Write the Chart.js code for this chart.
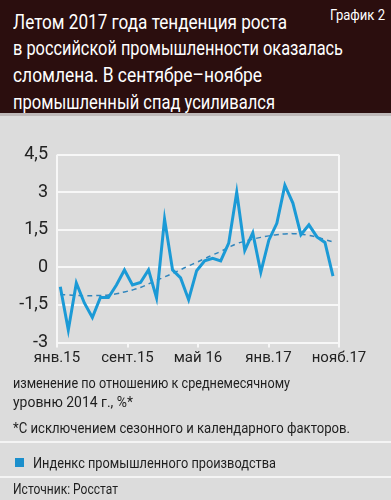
<!DOCTYPE html>
<html>
<head>
<meta charset="utf-8">
<script src="https://cdn.jsdelivr.net/npm/chart.js@4"></script>
<style>
  html,body{margin:0;padding:0;}
  body{width:391px;height:500px;background:#dcdcdc;position:relative;overflow:hidden;
       font-family:Roboto,"DejaVu Sans",sans-serif;color:#1e1e1e;}
  #head{position:absolute;left:0;top:0;width:391px;height:113px;background:#2b0e0e;border-bottom:3px solid #bdb8b8;}
  .w{position:absolute;white-space:nowrap;transform-origin:0 50%;}
  .ti{color:#fff;font-size:20px;left:13px;line-height:24px;}
  #cv{position:absolute;left:0;top:135px;}
  .t{left:13px;font-size:15.5px;line-height:18px;}
  .sep{position:absolute;left:0;width:391px;height:2px;background:#f4f4f4;}
  #sq{position:absolute;left:15px;top:458px;width:9px;height:9px;background:#1b8fcc;}
</style>
</head>
<body>
<div id="head"></div>
<div class="w ti" style="top:9.7px;" data-w="274">Летом 2017 года тенденция роста</div>
<div class="w ti" style="top:36.3px;" data-w="330">в российской промышленности оказалась</div>
<div class="w ti" style="top:63px;" data-w="249">сломлена. В сентябре–ноябре</div>
<div class="w ti" style="top:89.7px;" data-w="262">промышленный спад усиливался</div>
<div class="w" style="top:6px;left:330px;color:#fff;font-size:15.5px;line-height:18px;" data-w="55">График 2</div>
<canvas id="cv" width="391" height="240"></canvas>
<div class="w t" style="top:374px;" data-w="277">изменение по отношению к среднемесячному</div>
<div class="w t" style="top:393px;" data-w="120">уровню 2014 г., %*</div>
<div class="w t" style="top:419px;" data-w="337">*С исключением сезонного и календарного факторов.</div>
<div class="sep" style="top:441px;"></div>
<div id="sq"></div>
<div class="w t" style="top:454px;left:33px;" data-w="243">Инденкс промышленного производства</div>
<div class="sep" style="top:476px;"></div>
<div class="w t" style="top:480px;" data-w="105">Источник: Росстат</div>
<script>
// Months Jan 2015 .. Nov 2017
const months = ["01.15","02.15","03.15","04.15","05.15","06.15","07.15","08.15","09.15","10.15","11.15","12.15",
  "01.16","02.16","03.16","04.16","05.16","06.16","07.16","08.16","09.16","10.16","11.16","12.16",
  "01.17","02.17","03.17","04.17","05.17","06.17","07.17","08.17","09.17","10.17","11.17"];
const indexValues = [-0.77,-2.5,-0.62,-1.42,-2.0,-1.2,-1.2,-0.7,-0.1,-0.7,-0.6,-0.1,
  -1.22,1.93,-0.1,-0.42,-1.29,-0.13,0.26,0.36,0.26,0.97,3.0,0.68,
  1.38,-0.19,1.09,1.76,3.28,2.57,1.31,1.7,1.22,1.0,-0.35];
const trendValues = [-1.08,-1.1,-1.12,-1.13,-1.13,-1.12,-1.1,-1.05,-0.98,-0.9,-0.8,-0.66,
  -0.52,-0.38,-0.24,-0.09,0.06,0.2,0.35,0.5,0.64,0.8,0.95,1.05,
  1.13,1.2,1.26,1.31,1.34,1.35,1.33,1.28,1.21,1.11,1.02];
const xTickLabels = ["янв.15","сент.15","май 16","янв.17","нояб.17"];
const yTicks = [-3,-1.5,0,1.5,3,4.5];

// fit condensed-looking text to the widths in the reference
document.querySelectorAll('[data-w]').forEach(el=>{
  const w = el.getBoundingClientRect().width;
  el.style.transform = 'scaleX(' + (parseFloat(el.dataset.w)/w) + ')';
});

const FONT = 'Roboto,"DejaVu Sans",sans-serif';
const xMin = -0.41, xMax = 34.75;

new Chart(document.getElementById('cv'), {
  type: 'line',
  data: {
    datasets: [
      {data: indexValues.map((v,i)=>({x:i,y:v})), borderColor:'#1b9ad6', borderWidth:3,
       pointRadius:0, tension:0, borderJoinStyle:'miter', order:1},
      {data: trendValues.map((v,i)=>({x:i,y:v})), borderColor:'#3286bd', borderWidth:1.5,
       borderDash:[5,4], pointRadius:0, tension:0.4, order:2}
    ]
  },
  options: {
    responsive:false, animation:false, devicePixelRatio:1,
    layout:{padding:{left:0,right:52,top:13.5,bottom:0}},
    plugins:{legend:{display:false}, tooltip:{enabled:false}},
    scales:{
      x:{type:'linear', min:xMin, max:xMax,
        afterBuildTicks:(s)=>{ s.ticks = xTickLabels.map((l,i)=>({value: xMin + i*(xMax-xMin)/(xTickLabels.length-1)})); },
        afterFit:(s)=>{ s.height = 32.5; },
        ticks:{callback:(v,i)=>xTickLabels[i], color:'#222', font:{family:FONT,size:15}, padding:2, maxRotation:0, autoSkip:false},
        grid:{color:(c)=> (c.index===0||c.index===xTickLabels.length-1)?'#f7f7f7':'rgba(0,0,0,0)',
              tickColor:'#f7f7f7', lineWidth:2, tickLength:5},
        border:{display:true, color:'#f7f7f7', width:2}
      },
      y:{min:-3, max:4.5,
        afterBuildTicks:(s)=>{ s.ticks = yTicks.map(v=>({value:v})); },
        afterFit:(s)=>{ s.width = 57; },
        ticks:{callback:(v)=>String(v).replace('.',','), color:'#222', font:{family:FONT,size:18}, padding:9},
        grid:{color:'#f7f7f7', lineWidth:2, drawTicks:false},
        border:{display:false}
      }
    }
  }
});
</script>
</body>
</html>
